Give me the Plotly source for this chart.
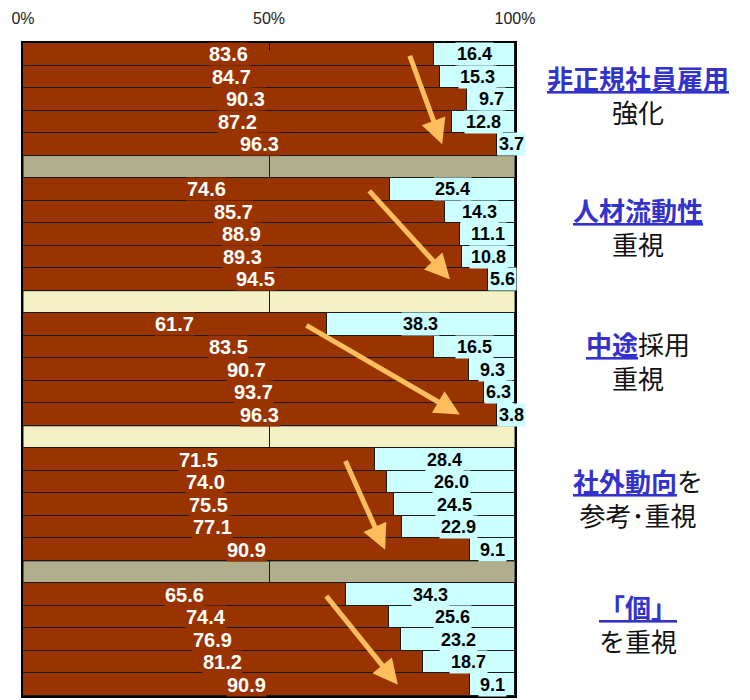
import plotly.graph_objects as go

# ---- data ----
group_titles = [
    "<b><u>非正規社員雇用</u></b><br><span style='color:#111111'>強化</span>",
    "<b><u>人材流動性</u></b><br><span style='color:#111111'>重視</span>",
    "<b><u>中途</u></b><span style='color:#111111'>採用</span><br><span style='color:#111111'>重視</span>",
    "<b><u>社外動向</u></b><span style='color:#111111'>を</span><br><span style='color:#111111'>参考･重視</span>",
    "<b><u>「個」</u></b><br><span style='color:#111111'>を重視</span>",
]
brown_values = [
    [83.6, 84.7, 90.3, 87.2, 96.3],
    [74.6, 85.7, 88.9, 89.3, 94.5],
    [61.7, 83.5, 90.7, 93.7, 96.3],
    [71.5, 74.0, 75.5, 77.1, 90.9],
    [65.6, 74.4, 76.9, 81.2, 90.9],
]
cyan_values = [
    [16.4, 15.3, 9.7, 12.8, 3.7],
    [25.4, 14.3, 11.1, 10.8, 5.6],
    [38.3, 16.5, 9.3, 6.3, 3.8],
    [28.4, 26.0, 24.5, 22.9, 9.1],
    [34.3, 25.6, 23.2, 18.7, 9.1],
]
separator_colors = ["#b1ae8e", "#f4f2c4", "#f4f2c4", "#b1ae8e"]
# arrow start / end x (percent) for each group
arrow_x_start = [78.5, 70.1, 57.3, 65.4, 61.4]
arrow_x_end = [85.2, 86.8, 88.8, 73.6, 76.2]
tick_values = [0, 50, 100]
tick_labels = ["0%", "50%", "100%"]

BROWN = "#993300"
CYAN = "#ccffff"
BLUE = "#3333cc"
ARROW = "#ffbe5c"
NUMFONT = "Liberation Sans, Arial"

rows_per_group = 6
n_rows = len(brown_values) * rows_per_group - 1

ys, bv, cv = [], [], []
for g in range(len(brown_values)):
    for i in range(5):
        ys.append(g * rows_per_group + i)
        bv.append(brown_values[g][i])
        cv.append(cyan_values[g][i])

fig = go.Figure()
fig.add_trace(go.Bar(
    y=ys, x=bv, orientation="h", width=1,
    marker=dict(color=BROWN, line=dict(color="#1a1a1a", width=1)),
    hoverinfo="skip", showlegend=False,
))
fig.add_trace(go.Bar(
    y=ys, x=cv, base=bv, orientation="h", width=1,
    marker=dict(color=CYAN, line=dict(color="#1a1a1a", width=1)),
    hoverinfo="skip", showlegend=False,
))

annotations = []
for y, b, c in zip(ys, bv, cv):
    annotations.append(dict(
        x=b / 2, y=y, xref="x", yref="y", text=f"<b>{b:.1f}</b>", showarrow=False,
        font=dict(family=NUMFONT, size=20, color="white"),
        bgcolor=BROWN, borderpad=0, xanchor="center", yanchor="middle",
    ))
    if c < 7:
        annotations.append(dict(
            x=b, y=y, xref="x", yref="y", text=f"<b>{c:.1f}</b>", showarrow=False,
            font=dict(family=NUMFONT, size=18, color="black"),
            bgcolor=CYAN, borderpad=1, xanchor="left", yanchor="middle",
        ))
    else:
        annotations.append(dict(
            x=b + c / 2, y=y, xref="x", yref="y", text=f"<b>{c:.1f}</b>", showarrow=False,
            font=dict(family=NUMFONT, size=18, color="black"),
            bgcolor=CYAN, borderpad=1, xanchor="center", yanchor="middle",
        ))

# arrows
for g in range(len(brown_values)):
    annotations.append(dict(
        x=arrow_x_end[g], y=g * rows_per_group + 4, xref="x", yref="y",
        ax=arrow_x_start[g], ay=g * rows_per_group, axref="x", ayref="y",
        showarrow=True, arrowhead=2, arrowsize=1, arrowwidth=5, arrowcolor=ARROW,
        text="", standoff=0,
    ))

# separator rows
shapes = []
for s, col in enumerate(separator_colors):
    r = s * rows_per_group + 5
    shapes.append(dict(
        type="rect", xref="x", yref="y", x0=0, x1=100, y0=r - 0.5, y1=r + 0.5,
        fillcolor=col, line=dict(color="#1a1a1a", width=1), layer="below",
    ))

# right-side titles
H = 700
top, bottom = 43, 2
ph = H - top - bottom
title_y = [95, 227, 361, 499, 625]
for g, txt in enumerate(group_titles):
    annotations.append(dict(
        x=(638 - 23) / 492, y=1 - (title_y[g] - top) / ph, xref="paper", yref="paper",
        text=txt, showarrow=False, xanchor="center", yanchor="middle", align="center",
        font=dict(family="Noto Sans CJK JP", size=26, color=BLUE),
    ))

fig.update_layout(
    width=750, height=700,
    margin=dict(l=23, r=235, t=top, b=bottom),
    paper_bgcolor="white", plot_bgcolor="white",
    barmode="overlay", bargap=0,
    showlegend=False,
    annotations=annotations, shapes=shapes,
    xaxis=dict(
        range=[0, 100], side="top", tickvals=tick_values, ticktext=tick_labels,
        ticks="inside", ticklen=7, tickcolor="black", ticklabelstandoff=11,
        tickfont=dict(family="Liberation Sans, Arial", size=16, color="#222222"),
        showgrid=True, gridcolor="#1a1a1a", gridwidth=1,
        showline=True, linecolor="black", linewidth=2, mirror=True,
        zeroline=False, fixedrange=True,
    ),
    yaxis=dict(
        range=[n_rows - 0.5, -0.5], showticklabels=False, ticks="",
        showgrid=False, zeroline=False,
        showline=True, linecolor="black", linewidth=2, mirror=True, fixedrange=True,
    ),
)

fig.write_html("out.html")
